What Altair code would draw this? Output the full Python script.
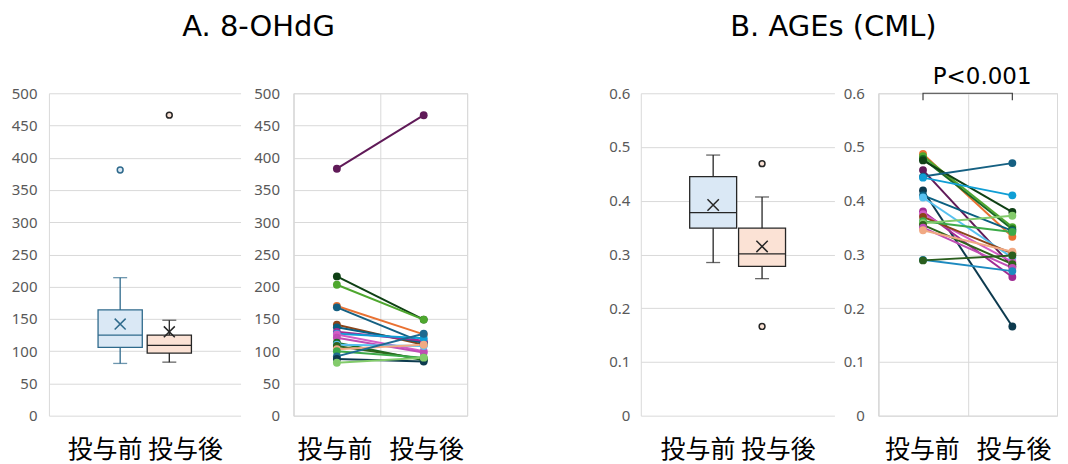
import altair as alt
import pandas as pd

# ---------------- data ----------------
groups = ["投与前", "投与後"]
panel_titles = ["A. 8-OHdG", "B. AGEs (CML)"]
x_titles = ["投与前\u00a0投与後", "投与前\u00a0\u00a0\u00a0投与後"]
sig_text = ["P<0.001"]

a_ticks = [0, 50, 100, 150, 200, 250, 300, 350, 400, 450, 500]
b_ticks = [0, 0.1, 0.2, 0.3, 0.4, 0.5, 0.6]

# A. 8-OHdG box statistics (pre, post)
a_min = [81, 83]
a_q1 = [106, 97]
a_med = [125, 109]
a_q3 = [164, 125]
a_max = [214, 148]
a_mean = [142, 130]
a_out_g = ["投与前", "投与後"]
a_out_v = [381, 466]

# B. AGEs (CML) box statistics (pre, post)
b_min = [0.285, 0.255]
b_q1 = [0.349, 0.278]
b_med = [0.378, 0.301]
b_q3 = [0.445, 0.349]
b_max = [0.485, 0.407]
b_mean = [0.392, 0.315]
b_out_g = ["投与後", "投与後"]
b_out_v = [0.469, 0.166]

# A. paired values
a_pre = [383, 216, 203, 170, 168, 141, 137, 130, 127, 126, 121, 113, 110, 108, 103, 100, 92, 88, 82]
a_post = [466, 149, 149, 126, 113, 110, 113, 116, 120, 100, 98, 86, 108, 88, 110, 90, 127, 84, 90]
a_colors = ["#601A58", "#0F4015", "#4EA72E", "#E97132", "#156082", "#8B4419", "#095F80",
            "#A02B93", "#0F9ED5", "#D35DC6", "#C04DB5", "#196B24", "#57C1F0", "#2F641C",
            "#F1A983", "#3CAA48", "#1D6A90", "#0D3A4E", "#83CB6B"]

# B. paired values
b_pre = [0.487, 0.483, 0.478, 0.475, 0.457, 0.445, 0.443, 0.419, 0.410, 0.406,
         0.380, 0.375, 0.370, 0.362, 0.358, 0.355, 0.350, 0.345, 0.290, 0.289]
b_post = [0.333, 0.351, 0.347, 0.379, 0.278, 0.470, 0.410, 0.166, 0.344, 0.294,
          0.258, 0.286, 0.302, 0.342, 0.372, 0.282, 0.275, 0.305, 0.269, 0.298]
b_colors = ["#E97132", "#4EA72E", "#196B24", "#0F4015", "#601A58", "#156082", "#0F9ED5",
            "#0D3A4E", "#095F80", "#57C1F0", "#A02B93", "#D35DC6", "#8B4419", "#3CAA48",
            "#83CB6B", "#2F641C", "#C04DB5", "#F1A983", "#1D8AC0", "#2A5E1E"]

sig_y = [0.6, 0.587]

# ---------------- styles ----------------
H = 323
GRID = "#D9D9D9"
LABEL = "#595959"
MEAN_SHAPE = "M-1,-1L1,1M-1,1L1,-1"


def y_axis(ticks, fmt, pad):
    return alt.Axis(values=ticks, format=fmt, grid=True, gridColor=GRID, gridWidth=1,
                    domain=True, domainColor=GRID, ticks=False, labelColor=LABEL,
                    labelFont="Noto Sans", labelFontSize=15, labelPadding=pad, title=None)


def x_axis(title, line=False):
    kw = dict(labels=False, ticks=False, domain=False, title=title,
              titleFont="Noto Sans CJK JP", titleFontSize=25, titleFontWeight="normal",
              titleColor="#000000", titlePadding=22)
    if line:
        kw.update(grid=True, gridColor=GRID, gridWidth=1, tickBand="extent")
    else:
        kw.update(grid=False)
    return alt.Axis(**kw)


def box_panel(mins, q1, med, q3, maxs, mean, out_g, out_v, ticks, fmt, pad, width, pin,
              strokes, fills, xtitle, title, title_x, mean_size):
    df = pd.DataFrame({"g": groups, "lo": mins, "q1": q1, "med": med, "q3": q3,
                       "hi": maxs, "mean": mean})
    odf = pd.DataFrame({"g": out_g, "v": out_v})
    tdf = pd.DataFrame({"t": [title]})
    xs = alt.Scale(domain=groups, paddingInner=pin, paddingOuter=1.0)
    ys = alt.Scale(domain=[0, ticks[-1]], nice=False, zero=True)
    ya = y_axis(ticks, fmt, pad)
    x = alt.X("g:N", scale=xs, sort=groups, axis=x_axis(xtitle))

    def Y(f):
        return alt.Y(f, scale=ys, axis=ya)

    col = alt.Color("g:N", scale=alt.Scale(domain=groups, range=strokes), legend=None)
    stroke = alt.Stroke("g:N", scale=alt.Scale(domain=groups, range=strokes), legend=None)
    fill = alt.Fill("g:N", scale=alt.Scale(domain=groups, range=fills), legend=None)
    base = alt.Chart(df)
    whisk = base.mark_rule(strokeWidth=1.3).encode(x=x, y=Y("lo:Q"), y2="hi:Q", color=col)
    box = base.mark_bar(strokeWidth=1.3).encode(x=x, y=Y("q1:Q"), y2="q3:Q", fill=fill, stroke=stroke)
    median = base.mark_bar(fillOpacity=0, strokeWidth=1.3).encode(x=x, y=Y("med:Q"), y2="med:Q", stroke=stroke)
    cap_lo = base.mark_tick(size=14, thickness=1.3, orient="horizontal").encode(x=x, y=Y("lo:Q"), color=col)
    cap_hi = base.mark_tick(size=14, thickness=1.3, orient="horizontal").encode(x=x, y=Y("hi:Q"), color=col)
    mn = base.mark_point(shape=MEAN_SHAPE, filled=False, size=mean_size, strokeWidth=1.5, opacity=1).encode(
        x=x, y=Y("mean:Q"), color=col)
    out = alt.Chart(odf).mark_point(shape="circle", filled=True, size=34, strokeWidth=1.5, opacity=1).encode(
        x=x, y=Y("v:Q"), fill=fill, stroke=stroke)
    ttl = alt.Chart(tdf).mark_text(font="DejaVu Sans", fontSize=29, align="center",
                                   baseline="alphabetic", color="#000000").encode(
        text="t:N", x=alt.value(title_x), y=alt.value(-57))
    return alt.layer(whisk, box, median, cap_lo, cap_hi, mn, out, ttl).properties(
        width=width, height=H).resolve_scale(color="shared", fill="shared", stroke="shared")


def line_panel(pre, post, colors, ticks, fmt, pad, width, xtitle, sig=None):
    n = len(pre)
    ids = [f"s{i + 1}" for i in range(n)]
    df = pd.DataFrame({"id": ids + ids, "g": [groups[0]] * n + [groups[1]] * n, "v": pre + post})
    xs = alt.Scale(type="band", domain=groups, paddingInner=0, paddingOuter=0)
    ys = alt.Scale(domain=[0, ticks[-1]], nice=False, zero=True)
    x = alt.X("g:N", scale=xs, sort=groups, bandPosition=0.5, axis=x_axis(xtitle, True))
    y = alt.Y("v:Q", scale=ys, axis=y_axis(ticks, fmt, pad))
    col = alt.Color("id:N", scale=alt.Scale(domain=ids, range=colors), legend=None)
    lines = alt.Chart(df).mark_line(strokeWidth=2, opacity=1).encode(x=x, y=y, color=col)
    pts = alt.Chart(df).mark_point(filled=True, size=62, opacity=1).encode(x=x, y=y, color=col)
    layers = [lines, pts]
    if sig is not None:
        sdf = pd.DataFrame({"g": [groups[0], groups[0], groups[1], groups[1]],
                            "v": [sig_y[1], sig_y[0], sig_y[0], sig_y[1]],
                            "o": [0, 1, 2, 3]})
        br = alt.Chart(sdf).mark_line(color="#404040", strokeWidth=1.2).encode(x=x, y=y, order="o:Q")
        tdf = pd.DataFrame({"t": sig})
        tx = alt.Chart(tdf).mark_text(font="DejaVu Sans", fontSize=23, align="center",
                                      baseline="alphabetic", color="#000000").encode(
            text="t:N", x=alt.value(104), y=alt.value(-9))
        layers += [br, tx]
    return alt.layer(*layers).properties(width=width, height=H,
                                         view=alt.ViewBackground(stroke=GRID, strokeWidth=1))


def spacer(w):
    return alt.Chart(pd.DataFrame({"s": [0]})).mark_point(opacity=0).encode(
        x=alt.value(0), y=alt.value(0)).properties(width=w, height=H)


boxA = box_panel(a_min, a_q1, a_med, a_q3, a_max, a_mean, a_out_g, a_out_v, a_ticks, "d", 12,
                 192, 0.1, ["#2F6A8C", "#262626"], ["#DAE8F5", "#FBE2D5"], x_titles[0],
                 panel_titles[0], 210, 121)
lineA = line_panel(a_pre, a_post, a_colors, a_ticks, "d", 14, 174, x_titles[1])
boxB = box_panel(b_min, b_q1, b_med, b_q3, b_max, b_mean, b_out_g, b_out_v, b_ticks, "~g", 11,
                 194, 0.04, ["#262626", "#262626"], ["#DAE8F5", "#FBE2D5"], x_titles[0],
                 panel_titles[1], 193, 130)
lineB = line_panel(b_pre, b_post, b_colors, b_ticks, "~g", 14, 179, x_titles[1], sig=sig_text)

chart = alt.hconcat(boxA, spacer(53), lineA, spacer(174), boxB, spacer(44), lineB,
                    spacing=0, bounds="flush").resolve_scale(
    color="independent", fill="independent", stroke="independent"
).properties(
    padding={"left": 2, "top": 4, "right": 2, "bottom": 2},
    background="#FFFFFF",
).configure_view(stroke="transparent")

chart.save("out.html", embed_options={"renderer": "svg", "actions": False})
